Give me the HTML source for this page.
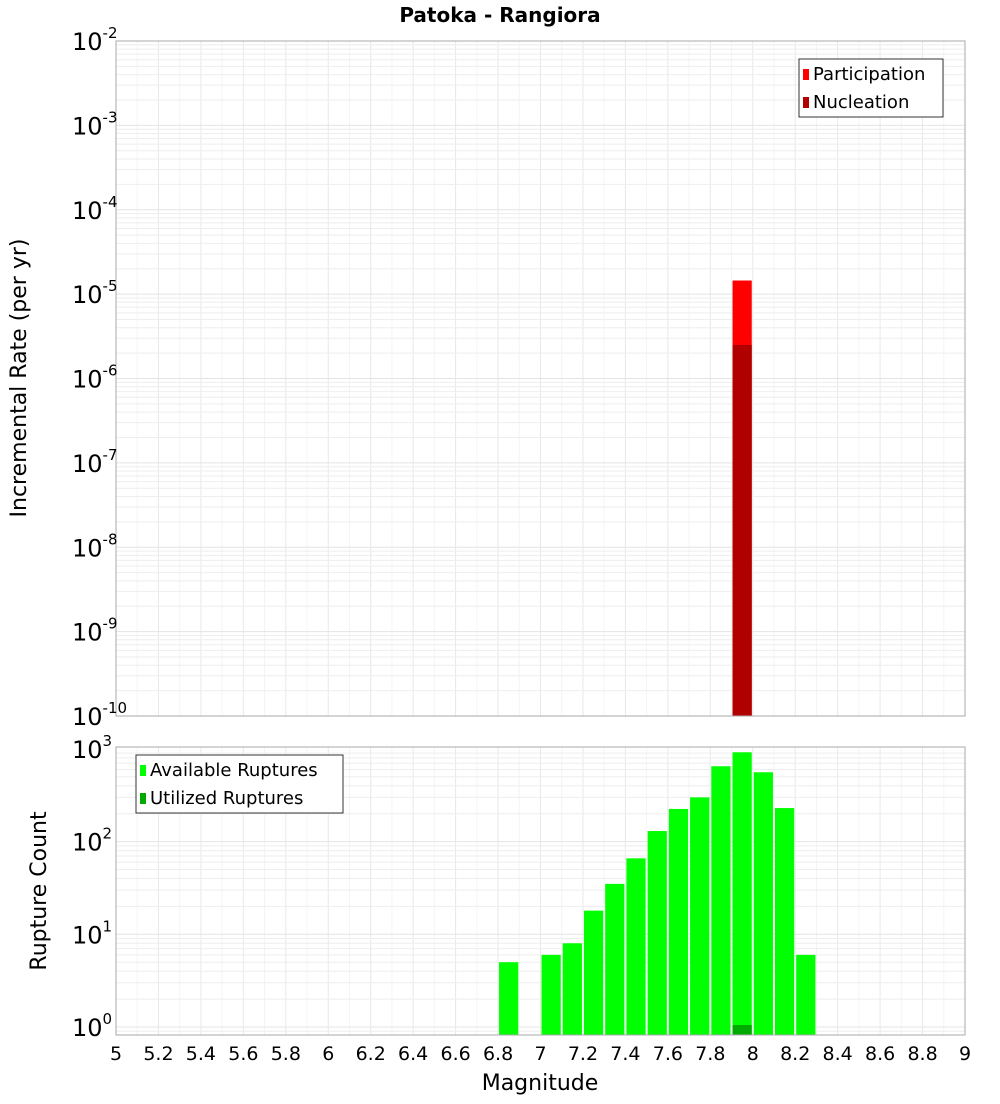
<!DOCTYPE html>
<html><head><meta charset="utf-8"><style>
body{margin:0;background:#fff;font-family:"DejaVu Sans","Liberation Sans",sans-serif;}
svg text{font-family:"DejaVu Sans","Liberation Sans",sans-serif;}
</style></head><body>
<svg id="c" width="1000" height="1100" xmlns="http://www.w3.org/2000/svg">
<text x="500" y="22" text-anchor="middle" font-weight="bold" font-size="20">Patoka - Rangiora</text>
</svg>
<script>
const mags=[6.85,7.05,7.15,7.25,7.35,7.45,7.55,7.65,7.75,7.85,7.95,8.05,8.15,8.25];
const available=[5,6,8,18,35,66,130,225,300,650,920,560,230,6];
const utilMags=[7.95];
const utilized=[1.05];
const rateMags=[7.95];
const participation=[1.45e-5];
const nucleation=[2.5e-6];
const xTicks=["5","5.2","5.4","5.6","5.8","6","6.2","6.4","6.6","6.8","7","7.2","7.4","7.6","7.8","8","8.2","8.4","8.6","8.8","9"];
const topExps=[-2,-3,-4,-5,-6,-7,-8,-9,-10];
const botExps=[0,1,2,3];

const NS="http://www.w3.org/2000/svg";
const svg=document.getElementById('c');
function mk(t,a,p){const e=document.createElementNS(NS,t);for(const k in a)e.setAttribute(k,a[k]);(p||svg).appendChild(e);return e;}
const X0=116,X1=965;
const x=m=>X0+(m-5)/4*(X1-X0);
const T0=41,T1=716;
const yT=v=>T0+(-2-Math.log10(v))/8*(T1-T0);
const B0=747,B1=1035,BD=92.7,B10=1027;
const yB=v=>B10-Math.log10(v)*BD;

function grid(top,bot,yf,lo,hi){
  const g=mk('g',{});
  
  
  for(let i=0;i<=40;i++){const xx=x(5+i*0.1);mk('line',{x1:xx,x2:xx,y1:top,y2:bot,stroke:i%2?'#f4f4f4':'#e8e8e8','stroke-width':1},g);}
  for(let e=lo;e<hi;e++)for(let k=1;k<10;k++){const yy=yf(k*Math.pow(10,e));if(yy<top||yy>bot)continue;mk('line',{x1:X0,x2:X1,y1:yy,y2:yy,stroke:k==1?'#e4e4e4':'#eeeeee','stroke-width':1},g);}
}
grid(T0,T1,yT,-10,-2);
grid(B0,B1,yB,-1,3);
const w=(x(5.1)-x(5))-2;
rateMags.forEach((m,i)=>{
  const r=mk('rect',{x:x(m)-w/2,y:yT(participation[i]),width:w,height:T1-yT(participation[i]),fill:'#ff0000'});
  
  
  const n=mk('rect',{x:x(m)-w/2,y:yT(nucleation[i]),width:w,height:T1-yT(nucleation[i]),fill:'#b00000'});
  
  
});
mags.forEach((m,i)=>{
  const r=mk('rect',{x:x(m)-w/2,y:yB(available[i]),width:w,height:B1-yB(available[i]),fill:'#00ff00'});
  
  
});
utilMags.forEach((m,i)=>{
  const r=mk('rect',{x:x(m)-w/2,y:yB(utilized[i]),width:w,height:B1-yB(utilized[i]),fill:'#00aa00'});
  
  
});
mk('rect',{x:X0,y:T0,width:X1-X0,height:T1-T0,fill:'none',stroke:'#aaa'});
mk('rect',{x:X0,y:B0,width:X1-X0,height:B1-B0,fill:'none',stroke:'#aaa'});
topExps.forEach(e=>{
  const t=mk('text',{x:72,y:yT(Math.pow(10,e))+9,'font-size':24});
  
  
  t.innerHTML='10<tspan dy="-12" font-size="15">'+e+'</tspan>';
});
botExps.forEach(e=>{
  const t=mk('text',{x:72,y:yB(Math.pow(10,e))+9,'font-size':24});
  
  
  t.innerHTML='10<tspan dy="-12" font-size="15">'+e+'</tspan>';
});
xTicks.forEach(s=>{
  const t=mk('text',{x:x(parseFloat(s)),y:1060,'font-size':19,'text-anchor':'middle'});
  
  
  t.textContent=s;
});
let t=mk('text',{x:540,y:1090,'font-size':22,'text-anchor':'middle'});


t.textContent='Magnitude';
t=mk('text',{x:0,y:0,'font-size':22,'text-anchor':'middle',transform:'translate(26,378) rotate(-90)'});


t.textContent='Incremental Rate (per yr)';
t=mk('text',{x:0,y:0,'font-size':22,'text-anchor':'middle',transform:'translate(46,891) rotate(-90)'});


t.textContent='Rupture Count';
function legend(lx,ly,lw,items,name){
  const g=mk('g',{});
  
  
  mk('rect',{x:lx,y:ly,width:lw,height:58,fill:'#fff',stroke:'#333'},g);
  items.forEach((it,i)=>{
    mk('rect',{x:lx+4,y:ly+10+i*28,width:6,height:11,fill:it[1]},g);
    const tt=mk('text',{x:lx+14,y:ly+21+i*28,'font-size':18},g);
    tt.textContent=it[0];
  });
}
legend(799,59,144,[['Participation','#ff0000'],['Nucleation','#b00000']],'rate-legend');
legend(136,755,207,[['Available Ruptures','#00ff00'],['Utilized Ruptures','#00aa00']],'count-legend');
</script>
</body></html>
